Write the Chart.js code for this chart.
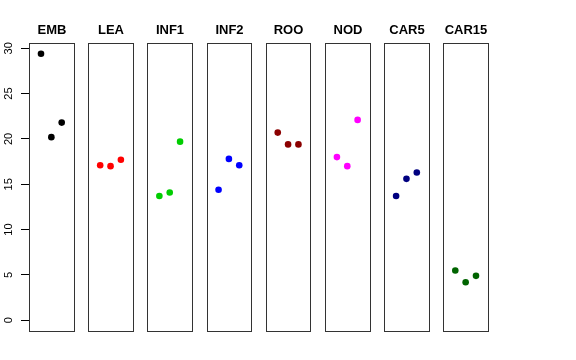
<!DOCTYPE html>
<html>
<head>
<meta charset="utf-8">
<script src="https://cdn.jsdelivr.net/npm/chart.js@4"></script>
<style>
  body { margin: 0; background: #fff; }
  canvas { display: block; }
</style>
</head>
<body>
<canvas id="chart" width="576" height="360"></canvas>
<script>
// Panel names and colours
const panels = ['EMB', 'LEA', 'INF1', 'INF2', 'ROO', 'NOD', 'CAR5', 'CAR15'];
const colors = ['#000000', '#FF0000', '#00CD00', '#0000FF', '#8B0000', '#FF00FF', '#000080', '#006400'];

// Values, three per panel
const emb = [29.4, 20.2, 21.8];
const lea = [17.1, 17.0, 17.7];
const inf1 = [13.7, 14.1, 19.7];
const inf2 = [14.4, 17.8, 17.1];
const roo = [20.7, 19.4, 19.4];
const nod = [18.0, 17.0, 22.1];
const car5 = [13.7, 15.6, 16.3];
const car15 = [5.5, 4.2, 4.9];
const values = [emb, lea, inf1, inf2, roo, nod, car5, car15];

const yTicks = [0, 5, 10, 15, 20, 25, 30];

// each panel spans 0..4 on its own x, panels laid side by side
const STEP = 5.72;
const PAD = 0.16;

const datasets = values.map((vals, i) => ({
  label: panels[i],
  data: vals.map((v, j) => ({ x: i * STEP + j + 1, y: v })),
  backgroundColor: colors[i],
  borderWidth: 0,
  pointRadius: 3.3,
  pointHoverRadius: 3.3
}));

const panelPlugin = {
  id: 'panels',
  beforeDatasetsDraw(chart) {
    const { ctx, scales: { x, y }, chartArea } = chart;
    ctx.save();
    ctx.strokeStyle = '#333';
    ctx.lineWidth = 1;
    panels.forEach((name, i) => {
      const left = Math.round(x.getPixelForValue(i * STEP - PAD)) + 0.5;
      const right = Math.round(x.getPixelForValue(i * STEP + 4 + PAD)) + 0.5;
      ctx.strokeRect(left, Math.round(chartArea.top) + 0.5, right - left, Math.round(chartArea.bottom - chartArea.top));
      ctx.fillStyle = '#000';
      ctx.font = 'bold 13px "Liberation Sans", Arial, sans-serif';
      ctx.textAlign = 'center';
      ctx.textBaseline = 'alphabetic';
      ctx.fillText(name, (left + right) / 2, 33.5);
    });
    // y tick labels, rotated like R's default
    ctx.font = '11px "Liberation Sans", Arial, sans-serif';
    y.ticks.forEach(t => {
      ctx.save();
      ctx.translate(11.5, y.getPixelForValue(t.value));
      ctx.rotate(-Math.PI / 2);
      ctx.textAlign = 'center';
      ctx.fillText(String(t.value), 0, 0);
      ctx.restore();
    });
    ctx.restore();
  }
};

new Chart(document.getElementById('chart'), {
  type: 'scatter',
  data: { datasets },
  options: {
    responsive: false,
    animation: false,
    events: [],
    layout: { padding: { left: 0, right: 88, top: 43, bottom: 29 } },
    plugins: { legend: { display: false }, tooltip: { enabled: false } },
    scales: {
      x: {
        type: 'linear',
        display: false,
        min: -PAD,
        max: (panels.length - 1) * STEP + 4 + PAD
      },
      y: {
        type: 'linear',
        min: -1.18,
        max: 30.58,
        afterBuildTicks: scale => { scale.ticks = yTicks.map(v => ({ value: v })); },
        afterFit: scale => { scale.width = 29; },
        ticks: { display: false },
        border: { display: false },
        grid: { drawOnChartArea: false, drawTicks: true, tickLength: 8, color: '#000' }
      }
    }
  },
  plugins: [panelPlugin]
});
</script>
</body>
</html>
